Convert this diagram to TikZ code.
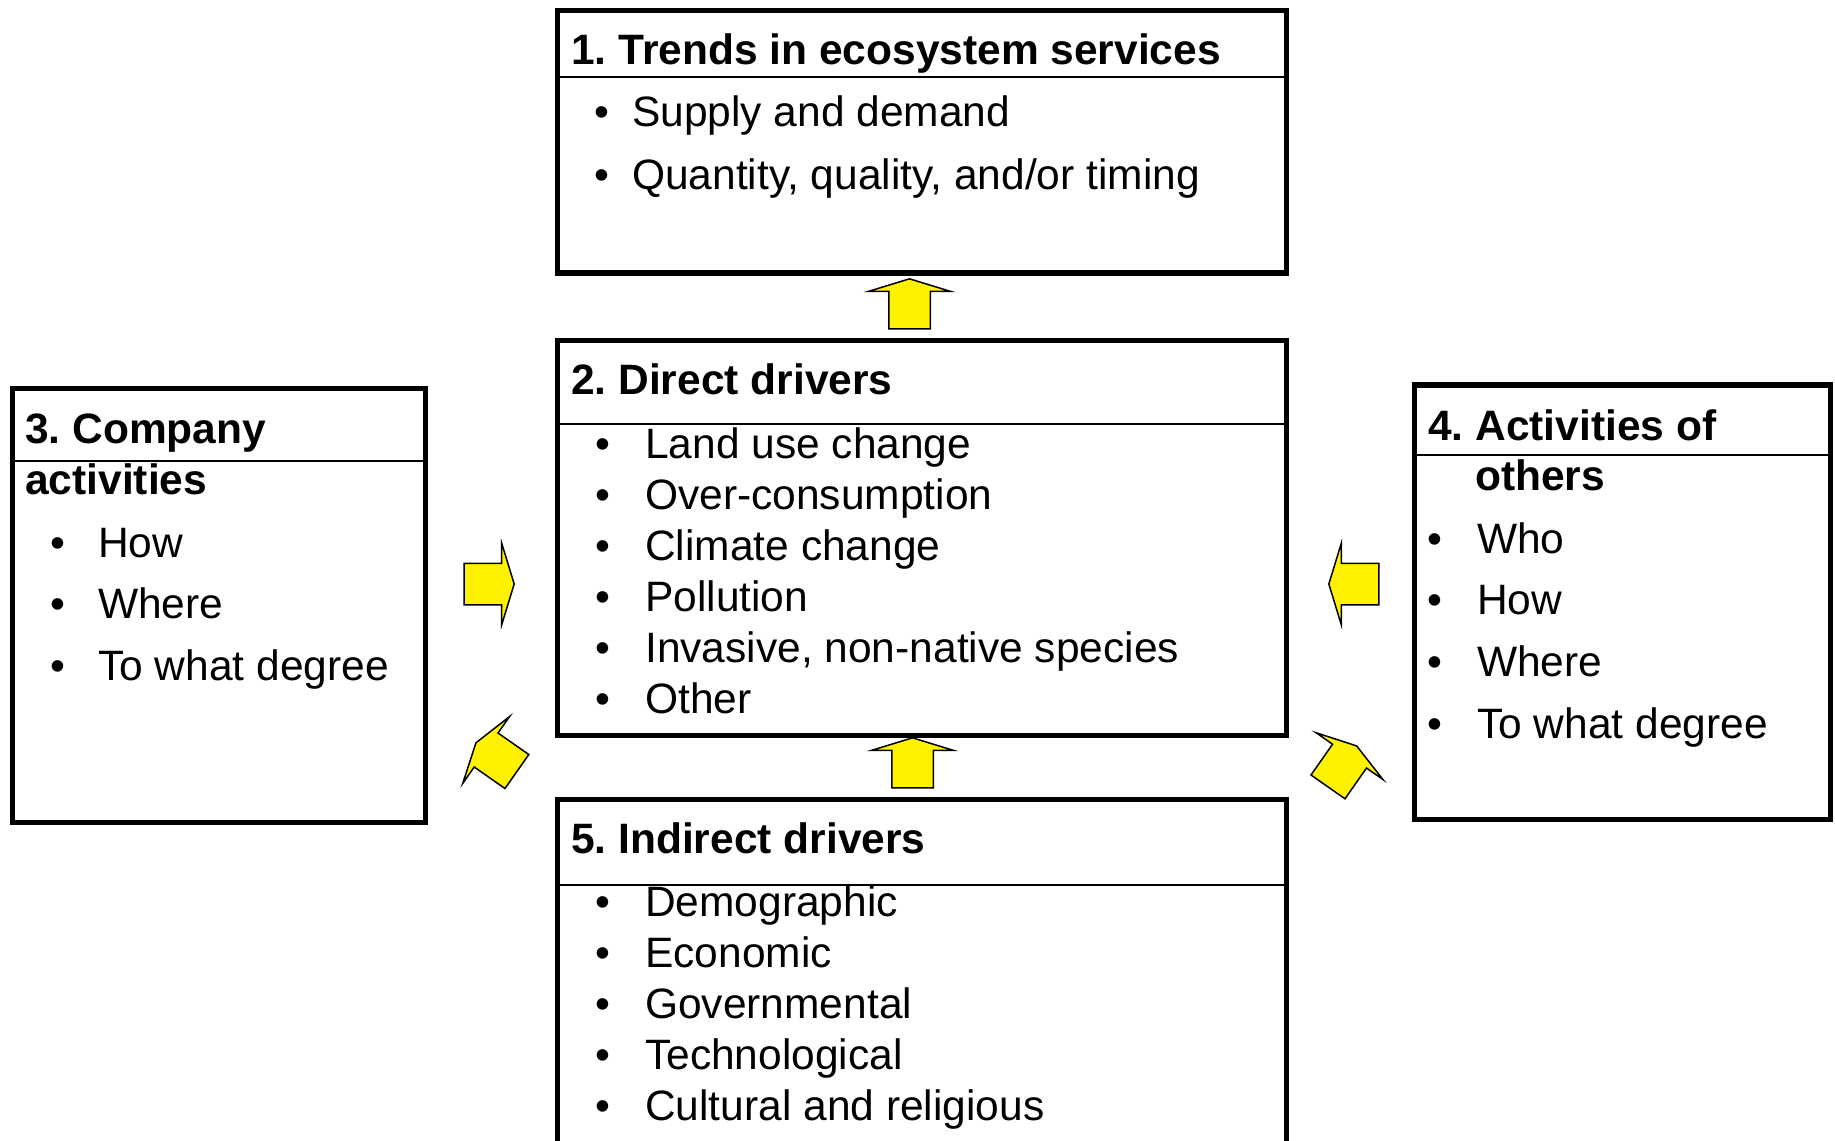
\documentclass[tikz,border=0pt]{standalone}
\usepackage{fontspec}
\setmainfont{Liberation Sans}
\usetikzlibrary{shapes.arrows}
\tikzset{
    every node/.style={font=\fontsize{42.5}{51}\selectfont,inner sep=0pt},
    box/.style={draw,line width=5.5pt,anchor=north west,minimum width=729pt},
    rule/.style={line width=1.5pt},
    title/.style={anchor=base west,font=\fontsize{42.5}{51}\selectfont\bfseries},
    item/.style={anchor=base west},
    fatarrow/.style={single arrow,draw,fill=yellow,line width=1.5pt,
        inner xsep=0pt,inner ysep=20pt,minimum height=50pt,
        single arrow head extend=20pt,single arrow tip angle=146}
}
\newcommand{\blt}[1]{\makebox[#1][l]{\textbullet}}
\frenchspacing

\begin{document}
\begin{tikzpicture}[x=1pt,y=-1pt]
\clip (0,0) rectangle (1835,1140);
\node[box,minimum height=262pt] (b1) at (554.5,8) {};
\node[box,minimum height=395pt] (b2) at (554.5,337.5) {};
\node[box,minimum height=360pt] (b5) at (554.5,796.5) {};
\node[box,minimum width=413pt,minimum height=434pt] (b3) at (9.5,385.5) {};
\node[box,minimum width=416pt,minimum height=434.5pt] (b4) at (1411.5,382) {};
\draw[rule] ([yshift=-69pt]b1.north west) -- ([yshift=-69pt]b1.north east);
\draw[rule] ([yshift=-86.5pt]b2.north west) -- ([yshift=-86.5pt]b2.north east);
\draw[rule] ([yshift=-88.5pt]b5.north west) -- ([yshift=-88.5pt]b5.north east);
\draw[rule] ([yshift=-75.5pt]b3.north west) -- ([yshift=-75.5pt]b3.north east);
\draw[rule] ([yshift=-73pt]b4.north west) -- ([yshift=-73pt]b4.north east);

\node[title] (t1) at (571,64) {1. Trends in ecosystem services};
\node[title] (t2) at (571,394) {2. Direct drivers};
\node[title] (t5) at (571,853) {5. Indirect drivers};
\node[title] (t3) at (25,443) {3. Company};
\node[title] (t3b) at (25,494) {activities};
\node[title] (t4) at (1428,440) {4. Activities of};
\node[title] (t4b) at (1475,490) {others};

\foreach \txt [count=\i] in {Supply and demand,{Quantity, quality, and/or timing}}
    \node[item] (b1-\i) at (594,{126+63*(\i-1)}) {\blt{38pt}\txt};
\foreach \txt [count=\i] in {Land use change,Over-consumption,Climate change,Pollution,
    {Invasive, non-native species},Other}
    \node[item] (b2-\i) at (595,{458+51*(\i-1)}) {\blt{50pt}\txt};
\foreach \txt [count=\i] in {Demographic,Economic,Governmental,Technological,Cultural and religious}
    \node[item] (b5-\i) at (595,{916+51*(\i-1)}) {\blt{50pt}\txt};
\foreach \txt [count=\i] in {How,Where,To what degree}
    \node[item] (b3-\i) at (50,{557+61.5*(\i-1)}) {\blt{48pt}\txt};
\foreach \txt [count=\i] in {Who,How,Where,To what degree}
    \node[item] (b4-\i) at (1427,{553+61.7*(\i-1)}) {\blt{50pt}\txt};

\node[fatarrow,rotate=90] (a21) at (909.5,307) {};
\node[fatarrow,rotate=90] (a52) at (912.5,766) {};
\node[fatarrow] (a32) at (486,584) {};
\node[fatarrow,rotate=180] (a42) at (1357,584) {};
\node[fatarrow,rotate=145] (a53) at (499,759) {};
\node[fatarrow,rotate=55] (a54) at (1340.5,769) {};
\end{tikzpicture}
\end{document}
